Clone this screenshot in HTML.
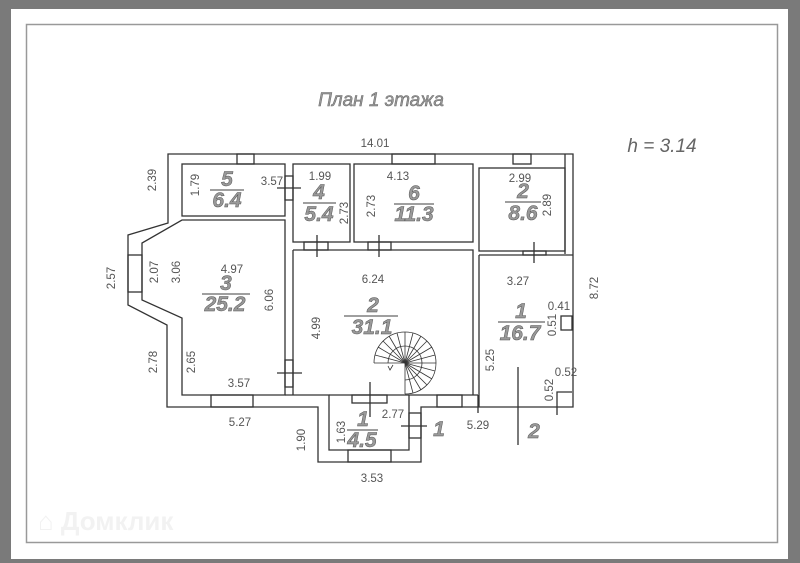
<!DOCTYPE html>
<html><head><meta charset="utf-8"><style>
html,body{margin:0;padding:0;width:800px;height:563px;overflow:hidden;background:#7a7a7a}
svg{display:block}
.d{font-family:"Liberation Sans",sans-serif;font-size:11.5px;fill:#555}
.r{font-family:"Liberation Sans",sans-serif;font-size:21px;font-style:italic;font-weight:bold;fill:#999;stroke:#555;stroke-width:0.5}
</style></head><body>
<svg width="800" height="563" viewBox="0 0 800 563" xmlns="http://www.w3.org/2000/svg">
<rect x="11" y="9" width="777" height="550" fill="#fff"/>
<rect x="26.5" y="24.5" width="751" height="518" fill="none" stroke="#999" stroke-width="1.5"/>
<text x="38" y="530" font-family="Liberation Sans,sans-serif" font-size="26" font-weight="bold" fill="#f2f2f2">⌂ Домклик</text>

<text x="381" y="106" text-anchor="middle" font-family="Liberation Sans,'Noto Sans CJK JP',sans-serif" font-size="19" font-style="italic" fill="#999" stroke="#666" stroke-width="0.5">План 1 этажа</text>
<text x="662" y="152" text-anchor="middle" font-family="Liberation Sans,sans-serif" font-size="19" font-style="italic" fill="#666">h = 3.14</text>

<g fill="none" stroke="#333" stroke-width="1.3">
<path d="M168,154 L573,154 L573,407 L421,407 L421,462 L318,462 L318,407 L167,407 L167,325 L128,305 L128,235 L168,223 Z"/>
<rect x="182" y="164" width="103" height="52"/>
<rect x="293" y="164" width="57" height="78"/>
<rect x="354" y="164" width="119" height="78"/>
<rect x="479" y="168" width="86" height="83"/>
<path d="M565,154 V254"/>
<path d="M479,255 H573 M479,255 V407"/>
<path d="M293,250 H473 V395 M293,250 V395"/>
<path d="M182,220 H285 V395 H182 V318 L142,300 V243 Z"/>
<path d="M285,395 H329 V450 H409 V395 H478"/>
<path d="M329,395 H409"/>
<rect x="237" y="154" width="17" height="10"/>
<rect x="392" y="154" width="43" height="10"/>
<rect x="513" y="154" width="18" height="10"/>
<rect x="128" y="255" width="14" height="37"/>
<rect x="211" y="395" width="42" height="12"/>
<rect x="348" y="450" width="43" height="12"/>
<rect x="437" y="395" width="25" height="12"/>
<rect x="352" y="395" width="35" height="8"/>
<rect x="409" y="413" width="12" height="25"/>
<rect x="285" y="176" width="8" height="24"/>
<path d="M277,188 H301"/>
<rect x="304" y="242" width="24" height="8"/>
<path d="M317,235 V257"/>
<rect x="368" y="242" width="23" height="8"/>
<path d="M379,235 V257"/>
<rect x="523" y="251" width="23" height="4"/>
<path d="M534,242 V263"/>
<rect x="285" y="360" width="8" height="27"/>
<path d="M277,373 H302"/>
<path d="M401,426 H427"/>
<path d="M370,382 V417"/>
<path d="M478,395 V413"/>
<path d="M518,367 V445"/>
<rect x="561" y="316" width="11" height="14"/>
<path d="M557,406 V392 H572 M557,392 V415"/>
</g>
<g fill="none" stroke="#333" stroke-width="0.8">
<path d="M374,363 A31,31 0 1 1 405,394"/>
<path d="M388,363 A17,17 0 1 1 405,380"/>
<path d="M374,363 H405 V394"/>
<line x1="405" y1="363" x2="375" y2="355"/><line x1="405" y1="363" x2="378" y2="347"/>
<line x1="405" y1="363" x2="383" y2="341"/><line x1="405" y1="363" x2="389" y2="336"/>
<line x1="405" y1="363" x2="397" y2="333"/><line x1="405" y1="363" x2="405" y2="332"/>
<line x1="405" y1="363" x2="413" y2="333"/><line x1="405" y1="363" x2="421" y2="336"/>
<line x1="405" y1="363" x2="427" y2="341"/><line x1="405" y1="363" x2="432" y2="347"/>
<line x1="405" y1="363" x2="435" y2="355"/><line x1="405" y1="363" x2="436" y2="363"/>
<line x1="405" y1="363" x2="435" y2="371"/><line x1="405" y1="363" x2="432" y2="379"/>
<line x1="405" y1="363" x2="427" y2="385"/><line x1="405" y1="363" x2="421" y2="390"/>
<line x1="405" y1="363" x2="413" y2="393"/>
<path d="M388,366 L390,370 L393,365"/>
</g>

<g class="d">
<text x="375" y="147" text-anchor="middle">14.01</text>
<text x="272" y="185" text-anchor="middle">3.57</text>
<text x="320" y="180" text-anchor="middle">1.99</text>
<text x="398" y="180" text-anchor="middle">4.13</text>
<text x="520" y="182" text-anchor="middle">2.99</text>
<text x="232" y="273" text-anchor="middle">4.97</text>
<text x="373" y="283" text-anchor="middle">6.24</text>
<text x="518" y="285" text-anchor="middle">3.27</text>
<text x="559" y="310" text-anchor="middle">0.41</text>
<text x="566" y="376" text-anchor="middle">0.52</text>
<text x="239" y="387" text-anchor="middle">3.57</text>
<text x="240" y="426" text-anchor="middle">5.27</text>
<text x="393" y="418" text-anchor="middle">2.77</text>
<text x="478" y="429" text-anchor="middle">5.29</text>
<text x="372" y="482" text-anchor="middle">3.53</text>
<text transform="translate(156,180) rotate(-90)" text-anchor="middle">2.39</text>
<text transform="translate(199,185) rotate(-90)" text-anchor="middle">1.79</text>
<text transform="translate(348,213) rotate(-90)" text-anchor="middle">2.73</text>
<text transform="translate(375,206) rotate(-90)" text-anchor="middle">2.73</text>
<text transform="translate(551,205) rotate(-90)" text-anchor="middle">2.89</text>
<text transform="translate(115,278) rotate(-90)" text-anchor="middle">2.57</text>
<text transform="translate(158,272) rotate(-90)" text-anchor="middle">2.07</text>
<text transform="translate(180,272) rotate(-90)" text-anchor="middle">3.06</text>
<text transform="translate(273,300) rotate(-90)" text-anchor="middle">6.06</text>
<text transform="translate(320,328) rotate(-90)" text-anchor="middle">4.99</text>
<text transform="translate(598,288) rotate(-90)" text-anchor="middle">8.72</text>
<text transform="translate(556,325) rotate(-90)" text-anchor="middle">0.51</text>
<text transform="translate(157,362) rotate(-90)" text-anchor="middle">2.78</text>
<text transform="translate(195,362) rotate(-90)" text-anchor="middle">2.65</text>
<text transform="translate(494,360) rotate(-90)" text-anchor="middle">5.25</text>
<text transform="translate(553,390) rotate(-90)" text-anchor="middle">0.52</text>
<text transform="translate(305,440) rotate(-90)" text-anchor="middle">1.90</text>
<text transform="translate(345,432) rotate(-90)" text-anchor="middle">1.63</text>
</g>

<g class="r" text-anchor="middle">
<text x="227" y="186">5</text><text x="227" y="207">6.4</text>
<text x="319" y="199">4</text><text x="319" y="221">5.4</text>
<text x="414" y="200">6</text><text x="414" y="221">11.3</text>
<text x="523" y="198">2</text><text x="523" y="220">8.6</text>
<text x="226" y="290">3</text><text x="225" y="311">25.2</text>
<text x="373" y="312">2</text><text x="372" y="334">31.1</text>
<text x="521" y="318">1</text><text x="520" y="340">16.7</text>
<text x="363" y="426">1</text><text x="362" y="447">4.5</text>
<text x="439" y="436">1</text>
<text x="534" y="438">2</text>
</g>
<g stroke="#666" stroke-width="1.2">
<line x1="210" y1="190" x2="244" y2="190"/>
<line x1="303" y1="203" x2="336" y2="203"/>
<line x1="394" y1="204" x2="434" y2="204"/>
<line x1="505" y1="202" x2="541" y2="202"/>
<line x1="202" y1="294" x2="250" y2="294"/>
<line x1="344" y1="316" x2="398" y2="316"/>
<line x1="498" y1="322" x2="545" y2="322"/>
<line x1="347" y1="430" x2="378" y2="430"/>
</g>
</svg>
</body></html>
